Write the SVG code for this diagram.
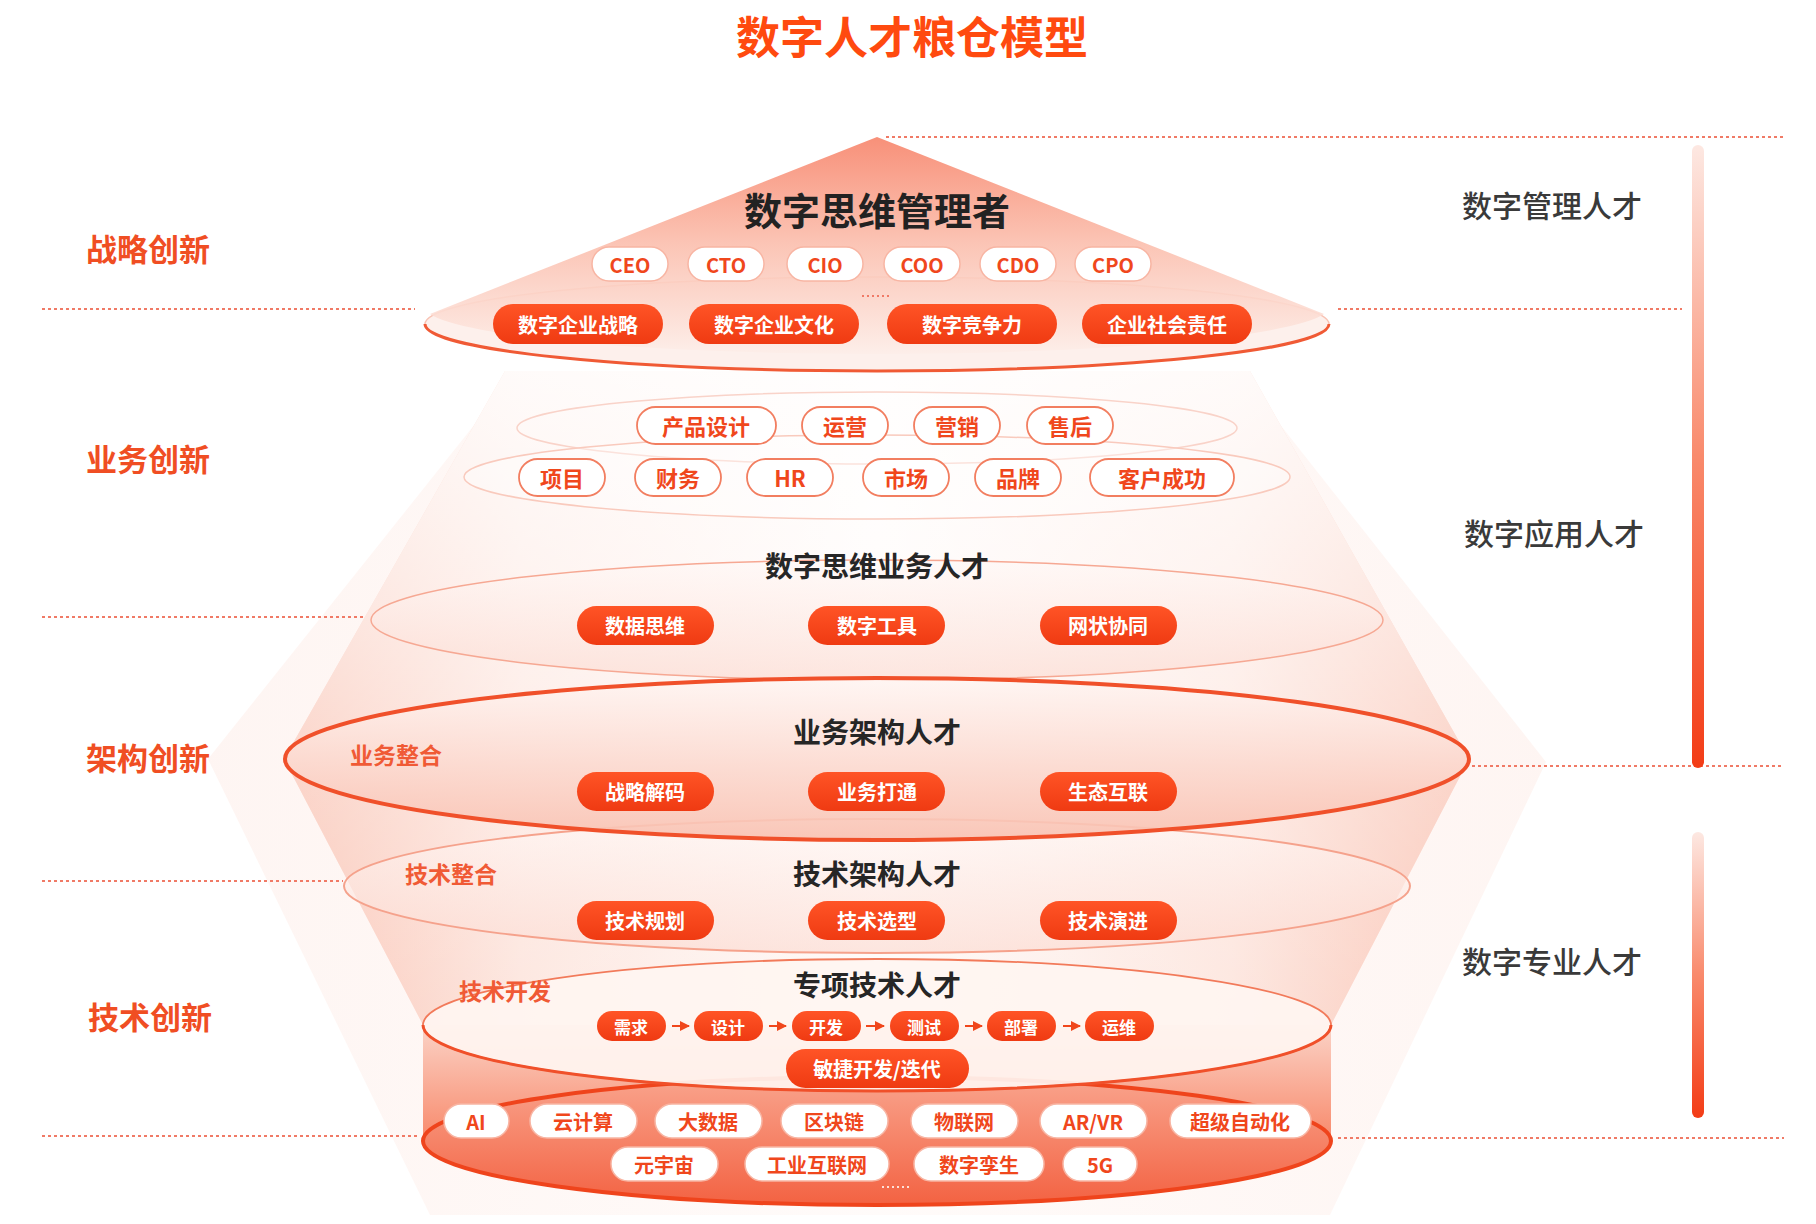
<svg xmlns="http://www.w3.org/2000/svg" width="1816" height="1224" viewBox="0 0 1816 1224">
<defs>
<linearGradient id="triGrad" x1="0" y1="0" x2="0" y2="1">
<stop offset="0" stop-color="#f7846a"/>
<stop offset="0.5" stop-color="#fbbfae"/>
<stop offset="1" stop-color="#fdeee9"/>
</linearGradient>
<linearGradient id="coneGrad" x1="0" y1="0" x2="1" y2="0">
<stop offset="0" stop-color="#f9bfae"/>
<stop offset="0.2" stop-color="#fde4dc"/>
<stop offset="0.5" stop-color="#fffaf8"/>
<stop offset="0.8" stop-color="#fde4dc"/>
<stop offset="1" stop-color="#f9bfae"/>
</linearGradient>
<linearGradient id="coneV" x1="0" y1="0" x2="0" y2="1">
<stop offset="0" stop-color="#ffffff" stop-opacity="0.85"/>
<stop offset="0.5" stop-color="#ffffff" stop-opacity="0.35"/>
<stop offset="1" stop-color="#ffffff" stop-opacity="0"/>
</linearGradient>
<linearGradient id="outerGrad" x1="0" y1="0" x2="1" y2="0">
<stop offset="0" stop-color="#fde9e3"/>
<stop offset="0.5" stop-color="#fff6f3"/>
<stop offset="1" stop-color="#fde9e3"/>
</linearGradient>
<linearGradient id="ellArch" x1="0" y1="0" x2="0" y2="1">
<stop offset="0" stop-color="#fff5f2" stop-opacity="0.85"/>
<stop offset="1" stop-color="#f9c1b1" stop-opacity="0.9"/>
</linearGradient>
<linearGradient id="ellSoft" x1="0" y1="0" x2="0" y2="1">
<stop offset="0" stop-color="#fff8f6" stop-opacity="0.6"/>
<stop offset="1" stop-color="#fcdcd3" stop-opacity="0.7"/>
</linearGradient>
<linearGradient id="cylGrad" x1="0" y1="0" x2="0" y2="1">
<stop offset="0" stop-color="#fbd3c7"/>
<stop offset="0.6" stop-color="#f88e71"/>
<stop offset="1" stop-color="#f25a35"/>
</linearGradient>
<linearGradient id="baseGrad" x1="0" y1="0" x2="0" y2="1">
<stop offset="0" stop-color="#f9a48d"/>
<stop offset="1" stop-color="#f36242"/>
</linearGradient>
<linearGradient id="redPill" x1="0" y1="0" x2="0" y2="1">
<stop offset="0" stop-color="#ff5426"/>
<stop offset="1" stop-color="#ef3a12"/>
</linearGradient>
<linearGradient id="barGrad" x1="0" y1="0" x2="0" y2="1">
<stop offset="0" stop-color="#fde8e2"/>
<stop offset="0.5" stop-color="#f98a6c"/>
<stop offset="1" stop-color="#f33c16"/>
</linearGradient>
<marker id="arr" viewBox="0 0 10 10" refX="9" refY="5" markerWidth="5" markerHeight="5" orient="auto">
<path d="M0,0 L10,5 L0,10 z" fill="#f0471c"/>
</marker>
<style>
text{font-family:"Noto Sans CJK SC","Noto Sans",sans-serif;text-anchor:middle;dominant-baseline:central}
.title{font-size:44px;font-weight:700;fill:#ff4a0f}
.lvl{font-size:31px;font-weight:700;fill:#f04e23}
.cat{font-size:30px;font-weight:500;fill:#3a3a3a}
.h1{font-size:38px;font-weight:700;fill:#222}
.h2{font-size:28px;font-weight:700;fill:#262626}
.side{font-size:23px;font-weight:700;fill:#f05a35}
.dot{stroke:#f07a66;stroke-width:2;stroke-dasharray:3 3;fill:none}
.wp{fill:#fff;stroke:#f8b5a3;stroke-width:1.5}
.wp2{fill:#fff;stroke:#f27e60;stroke-width:1.8}
.wt{font-size:20px;font-weight:700;fill:#f0471c}
.wt2{font-size:22px;font-weight:700;fill:#f0471c}
.rp{fill:url(#redPill)}
.rt{font-size:20px;font-weight:700;fill:#fff}
.rs{font-size:17px;font-weight:700;fill:#fff}
</style>
</defs>
<rect width="1816" height="1224" fill="#fff"/>
<text class="title" x="912" y="35">数字人才粮仓模型</text>

<g id="background">
<polygon points="510,380 1245,380 1546,762 1330,1215 430,1215 208,759" fill="url(#outerGrad)" opacity="0.45"/>
<path d="M505,371 L1250,371 L1469,759 L1331,1025 L1331,1141 L423,1141 L423,1025 L284,759 Z" fill="url(#coneGrad)"/>
<path d="M505,371 L1250,371 L1469,759 L1331,1025 L1331,1141 L423,1141 L423,1025 L284,759 Z" fill="url(#coneV)"/>
</g>

<g id="dotted-lines">
<line class="dot" x1="886" y1="137" x2="1784" y2="137"/>
<line class="dot" x1="42" y1="309" x2="415" y2="309"/>
<line class="dot" x1="1338" y1="309" x2="1682" y2="309"/>
<line class="dot" x1="42" y1="617" x2="366" y2="617"/>
<line class="dot" x1="1472" y1="766" x2="1784" y2="766"/>
<line class="dot" x1="42" y1="881" x2="343" y2="881"/>
<line class="dot" x1="42" y1="1136" x2="419" y2="1136"/>
<line class="dot" x1="1338" y1="1138" x2="1784" y2="1138"/>
</g>

<g id="left-labels">
<text class="lvl" x="148" y="247">战略创新</text>
<text class="lvl" x="148" y="457">业务创新</text>
<text class="lvl" x="148" y="756">架构创新</text>
<text class="lvl" x="150" y="1015">技术创新</text>
</g>

<g id="right-labels">
<text class="cat" x="1552" y="204">数字管理人才</text>
<text class="cat" x="1554" y="532">数字应用人才</text>
<text class="cat" x="1552" y="960">数字专业人才</text>
<rect x="1692" y="145" width="12" height="623" rx="6" fill="url(#barGrad)"/>
<rect x="1692" y="832" width="12" height="286" rx="6" fill="url(#barGrad)"/>
</g>

<g id="manager">
<ellipse cx="877" cy="324" rx="452" ry="47" fill="#fdf0ec" stroke="#f9c3b4" stroke-width="1.5"/>
<path d="M877,137 L430,314 A452,47 0 0 0 1324,314 Z" fill="url(#triGrad)" opacity="0.9"/>
<path d="M425,324 A452,47 0 0 0 1329,324" fill="none" stroke="#f05a35" stroke-width="3"/>
<text class="h1" x="877" y="208">数字思维管理者</text>
<rect class="wp" x="592" y="247" width="76" height="34" rx="17"/><text class="wt" x="630" y="264">CEO</text>
<rect class="wp" x="688" y="247" width="76" height="34" rx="17"/><text class="wt" x="726" y="264">CTO</text>
<rect class="wp" x="787" y="247" width="76" height="34" rx="17"/><text class="wt" x="825" y="264">CIO</text>
<rect class="wp" x="884" y="247" width="76" height="34" rx="17"/><text class="wt" x="922" y="264">COO</text>
<rect class="wp" x="980" y="247" width="76" height="34" rx="17"/><text class="wt" x="1018" y="264">CDO</text>
<rect class="wp" x="1075" y="247" width="76" height="34" rx="17"/><text class="wt" x="1113" y="264">CPO</text>
<line x1="862" y1="296" x2="892" y2="296" stroke="#f07a66" stroke-width="2" stroke-dasharray="2 3"/>
<rect class="rp" x="493" y="304" width="170" height="40" rx="20"/><text class="rt" x="578" y="324">数字企业战略</text>
<rect class="rp" x="689" y="304" width="170" height="40" rx="20"/><text class="rt" x="774" y="324">数字企业文化</text>
<rect class="rp" x="887" y="304" width="170" height="40" rx="20"/><text class="rt" x="972" y="324">数字竞争力</text>
<rect class="rp" x="1082" y="304" width="170" height="40" rx="20"/><text class="rt" x="1167" y="324">企业社会责任</text>
</g>

<g id="business-innovation">
<ellipse cx="877" cy="428" rx="360" ry="36" fill="none" stroke="#f9d3c9" stroke-width="1.5"/>
<ellipse cx="877" cy="477" rx="413" ry="42" fill="#fff" fill-opacity="0.35" stroke="#f9cabd" stroke-width="1.5"/>
<rect class="wp2" x="637" y="407" width="139" height="37" rx="18.5"/><text class="wt2" x="706" y="425">产品设计</text>
<rect class="wp2" x="802" y="407" width="86" height="37" rx="18.5"/><text class="wt2" x="845" y="425">运营</text>
<rect class="wp2" x="914" y="407" width="86" height="37" rx="18.5"/><text class="wt2" x="957" y="425">营销</text>
<rect class="wp2" x="1027" y="407" width="86" height="37" rx="18.5"/><text class="wt2" x="1070" y="425">售后</text>
<rect class="wp2" x="519" y="459" width="86" height="37" rx="18.5"/><text class="wt2" x="562" y="477">项目</text>
<rect class="wp2" x="635" y="459" width="86" height="37" rx="18.5"/><text class="wt2" x="678" y="477">财务</text>
<rect class="wp2" x="747" y="459" width="86" height="37" rx="18.5"/><text class="wt2" x="790" y="477">HR</text>
<rect class="wp2" x="863" y="459" width="86" height="37" rx="18.5"/><text class="wt2" x="906" y="477">市场</text>
<rect class="wp2" x="975" y="459" width="86" height="37" rx="18.5"/><text class="wt2" x="1018" y="477">品牌</text>
<rect class="wp2" x="1090" y="459" width="144" height="37" rx="18.5"/><text class="wt2" x="1162" y="477">客户成功</text>
</g>

<g id="digital-business">
<ellipse cx="877" cy="620" rx="506" ry="60" fill="url(#ellSoft)" stroke="#f6a893" stroke-width="1.5"/>
<text class="h2" x="877" y="565">数字思维业务人才</text>
<rect class="rp" x="577" y="606" width="137" height="39" rx="19.5"/><text class="rt" x="645" y="625">数据思维</text>
<rect class="rp" x="808" y="606" width="137" height="39" rx="19.5"/><text class="rt" x="877" y="625">数字工具</text>
<rect class="rp" x="1040" y="606" width="137" height="39" rx="19.5"/><text class="rt" x="1108" y="625">网状协同</text>
</g>

<g id="tech-architecture">
<ellipse cx="877" cy="886" rx="533" ry="67" fill="url(#ellSoft)" stroke="#f5a28c" stroke-width="2"/>
<text class="h2" x="877" y="873">技术架构人才</text>
<text class="side" x="451" y="873">技术整合</text>
<rect class="rp" x="577" y="901" width="137" height="39" rx="19.5"/><text class="rt" x="645" y="920">技术规划</text>
<rect class="rp" x="808" y="901" width="137" height="39" rx="19.5"/><text class="rt" x="877" y="920">技术选型</text>
<rect class="rp" x="1040" y="901" width="137" height="39" rx="19.5"/><text class="rt" x="1108" y="920">技术演进</text>
</g>

<g id="business-architecture">
<ellipse cx="877" cy="759" rx="592" ry="81" fill="url(#ellArch)" stroke="#f0502a" stroke-width="4"/>
<text class="h2" x="877" y="731">业务架构人才</text>
<text class="side" x="396" y="754">业务整合</text>
<rect class="rp" x="577" y="772" width="137" height="39" rx="19.5"/><text class="rt" x="645" y="791">战略解码</text>
<rect class="rp" x="808" y="772" width="137" height="39" rx="19.5"/><text class="rt" x="877" y="791">业务打通</text>
<rect class="rp" x="1040" y="772" width="137" height="39" rx="19.5"/><text class="rt" x="1108" y="791">生态互联</text>
</g>

<g id="specialist">
<path d="M423,1025 L423,1141 A454,64 0 0 0 1331,1141 L1331,1025 Z" fill="url(#cylGrad)"/>
<ellipse cx="877" cy="1141" rx="454" ry="64" fill="url(#baseGrad)" stroke="#ef441c" stroke-width="4"/>
<ellipse cx="877" cy="1025" rx="454" ry="66" fill="#fff5f1" fill-opacity="0.92" stroke="#f27a5a" stroke-width="1.8"/>
<path d="M423,1025 A454,66 0 0 0 1331,1025" fill="none" stroke="#f0502a" stroke-width="3"/>
<text class="h2" x="877" y="984">专项技术人才</text>
<text class="side" x="505" y="990">技术开发</text>
<rect class="rp" x="597" y="1011" width="69" height="30" rx="15"/><text class="rs" x="631" y="1026">需求</text>
<rect class="rp" x="694" y="1011" width="69" height="30" rx="15"/><text class="rs" x="728" y="1026">设计</text>
<rect class="rp" x="792" y="1011" width="69" height="30" rx="15"/><text class="rs" x="826" y="1026">开发</text>
<rect class="rp" x="890" y="1011" width="69" height="30" rx="15"/><text class="rs" x="924" y="1026">测试</text>
<rect class="rp" x="987" y="1011" width="69" height="30" rx="15"/><text class="rs" x="1021" y="1026">部署</text>
<rect class="rp" x="1085" y="1011" width="69" height="30" rx="15"/><text class="rs" x="1119" y="1026">运维</text>
<rect class="rp" x="786" y="1049" width="183" height="39" rx="19.5"/><text class="rt" x="877" y="1068">敏捷开发/迭代</text>
</g>

<g id="technologies">
<rect class="wp" x="444" y="1104" width="65" height="34" rx="17"/><text class="wt" x="476" y="1121">AI</text>
<rect class="wp" x="530" y="1104" width="107" height="34" rx="17"/><text class="wt" x="583" y="1121">云计算</text>
<rect class="wp" x="655" y="1104" width="107" height="34" rx="17"/><text class="wt" x="708" y="1121">大数据</text>
<rect class="wp" x="781" y="1104" width="107" height="34" rx="17"/><text class="wt" x="834" y="1121">区块链</text>
<rect class="wp" x="911" y="1104" width="107" height="34" rx="17"/><text class="wt" x="964" y="1121">物联网</text>
<rect class="wp" x="1040" y="1104" width="107" height="34" rx="17"/><text class="wt" x="1093" y="1121">AR/VR</text>
<rect class="wp" x="1170" y="1104" width="141" height="34" rx="17"/><text class="wt" x="1240" y="1121">超级自动化</text>
<rect class="wp" x="611" y="1147" width="107" height="34" rx="17"/><text class="wt" x="664" y="1164">元宇宙</text>
<rect class="wp" x="745" y="1147" width="144" height="34" rx="17"/><text class="wt" x="817" y="1164">工业互联网</text>
<rect class="wp" x="914" y="1147" width="130" height="34" rx="17"/><text class="wt" x="979" y="1164">数字孪生</text>
<rect class="wp" x="1063" y="1147" width="74" height="34" rx="17"/><text class="wt" x="1100" y="1164">5G</text>
<line x1="882" y1="1187" x2="912" y2="1187" stroke="#fde0d8" stroke-width="2" stroke-dasharray="2 3"/>
</g>

<g id="connectors" stroke="#f0471c" stroke-width="2" fill="none" marker-end="url(#arr)">
<line x1="672" y1="1026" x2="689" y2="1026"/>
<line x1="769" y1="1026" x2="786" y2="1026"/>
<line x1="866" y1="1026" x2="884" y2="1026"/>
<line x1="965" y1="1026" x2="982" y2="1026"/>
<line x1="1063" y1="1026" x2="1080" y2="1026"/>
</g>
</svg>
